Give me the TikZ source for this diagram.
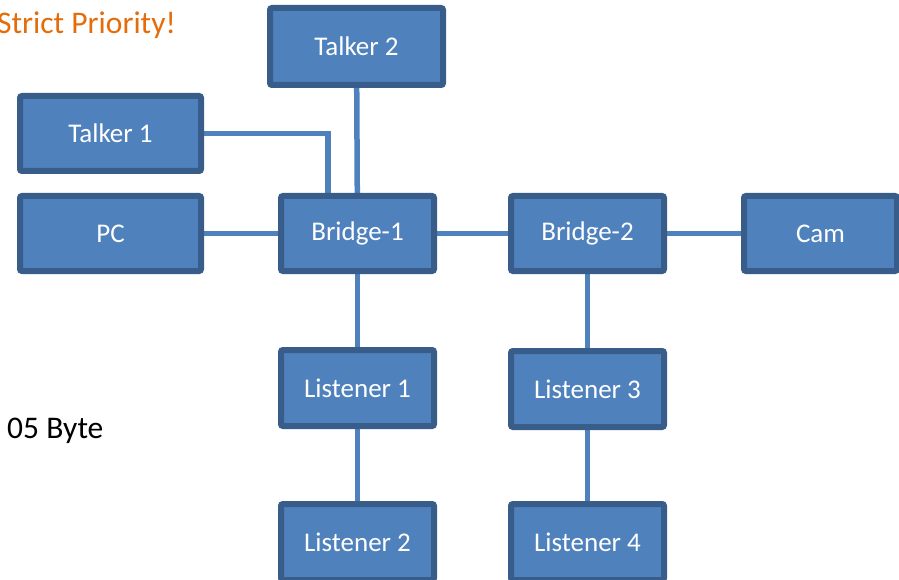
\documentclass[tikz,border=0pt]{standalone}
\usepackage{fontspec}
\setmainfont{Carlito}
\usepackage{tikz}
\usetikzlibrary{positioning,backgrounds}
\definecolor{boxfill}{HTML}{4F81BD}
\definecolor{boxline}{HTML}{385D8A}
\definecolor{notecol}{HTML}{E46C0A}
\tikzset{
  netbox/.style={draw=boxline,fill=boxfill,line width=6pt,rounded corners=2pt,
    minimum width=153pt,minimum height=75pt,inner sep=0pt,text=white,
    font=\fontsize{27}{31}\selectfont},
  link/.style={draw=boxfill,line width=5.5pt},
  note/.style={anchor=base west,inner sep=0pt,font=\fontsize{31.5}{36}\selectfont}
}
\begin{document}
\begin{tikzpicture}[x=1pt,y=-1pt]
      \useasboundingbox (0,0) rectangle (899,580);
      \clip (0,0) rectangle (899,580);
      \node[note,text=notecol] (prio) at (-3,34) {Strict Priority!};
      \node[note] (bytes) at (7,438) {05 Byte};
      % top row
      \node[netbox,minimum width=173pt,minimum height=77pt] (talker2) at (356.5,46.5) {Talker 2};
      \node[netbox,minimum width=181pt] (talker1) at (110.5,133.5) {Talker 1};
      % middle row
      \node[netbox,minimum width=181pt] (pc) at (110.5,233.5) {PC};
      \node[netbox] (bridge1) at (357.5,233.5) {Bridge-1};
      \node[netbox] (bridge2) at (587.5,233.5) {Bridge-2};
      \node[netbox] (cam) at (820.5,233.5) {Cam};
      % listeners
      \node[netbox,minimum height=76pt] (listener1) at (357.5,388) {Listener 1};
      \node[netbox,minimum height=76pt] (listener3) at (587.5,389) {Listener 3};
      \node[netbox,minimum height=76pt] (listener2) at (357.5,542) {Listener 2};
      \node[netbox,minimum height=76pt] (listener4) at (587.5,542) {Listener 4};
      \begin{pgfonlayer}{background}
        \draw[link] (talker2) -- (bridge1);
        \draw[link] (talker1.east) -| ([xshift=-29.5pt]bridge1.north);
        \draw[link] (pc) -- (bridge1);
        \draw[link] (bridge1) -- (bridge2);
        \draw[link] (bridge2) -- (cam);
        \draw[link] (bridge1) -- (listener1);
        \draw[link] (listener1) -- (listener2);
        \draw[link] (bridge2) -- (listener3);
        \draw[link] (listener3) -- (listener4);
      \end{pgfonlayer}
\end{tikzpicture}
\end{document}
